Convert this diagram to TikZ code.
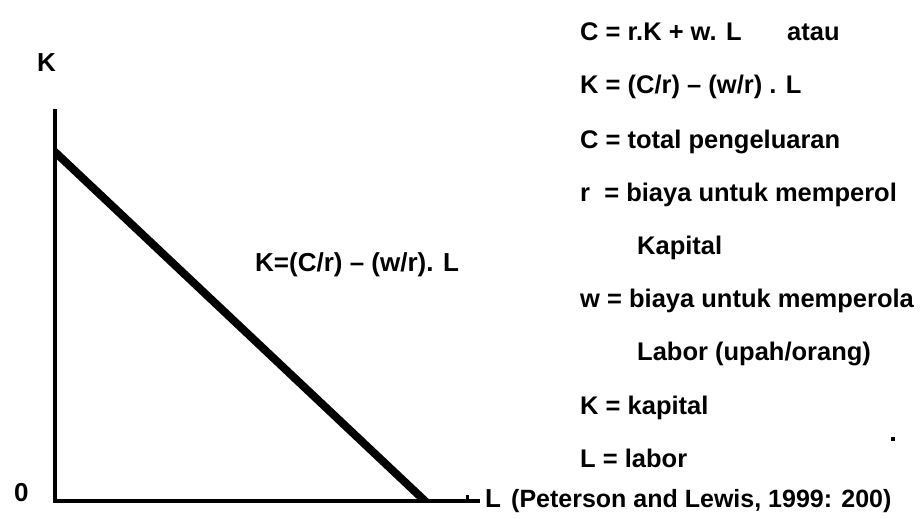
\documentclass[tikz,border=0pt]{standalone}
\usepackage{fontspec}
\setmainfont{Liberation Sans}
\usetikzlibrary{calc}
\begin{document}
\begin{tikzpicture}[x=1pt,y=-1pt,
  lbl/.style={anchor=base west,inner sep=0pt,font=\fontsize{25.5}{30}\selectfont\bfseries},
  blbl/.style={lbl,font=\fontsize{26}{30}\selectfont\bfseries},
  srclbl/.style={lbl,font=\fontsize{25}{30}\selectfont\bfseries},
  axisline/.style={line width=3.5pt,line join=miter},
  budget/.style={line width=8pt}]
\useasboundingbox (0,0) rectangle (924,519);
% axes
\coordinate (ktop) at (55,109);
\coordinate (orig) at (55,501);
\coordinate (lend) at (480,501);
\draw[axisline] (ktop) -- (orig) -- (lend);
% budget line
\coordinate (kint) at (55,152);
\coordinate (lint) at (425,501);
\begin{scope}
\clip (55,100) rectangle (600,501);
\draw[budget] ($(kint)!-0.02!(lint)$) -- ($(lint)!-0.02!(kint)$);
\end{scope}
% axis labels
\node[blbl] (klab) at (37,72) {K};
\node[blbl] (zlab) at (14,501) {0};
\node[blbl] (llab) at (485,507) {L};
\node[srclbl] (src) at (511,507) {(Peterson and Lewis, 1999: 200)};
% line label
\node[blbl] (eq) at (255,271) {K=(C/r) -- (w/r). L};
% legend
\node[lbl] (l1) at (580,41) {C = r.K + w. L};
\node[lbl] (l1b) at (787,41) {atau};
\node[lbl] (l2) at (580,94) {K = (C/r) -- (w/r) . L};
\node[lbl] (l3) at (580,148) {C = total pengeluaran};
\node[lbl] (l4) at (580,201) {r\ \ = biaya untuk memperol};
\node[lbl] (l5) at (637,254) {Kapital};
\node[lbl] (l6) at (580,307) {w = biaya untuk memperola};
\node[lbl] (l7) at (637,360) {Labor (upah/orang)};
\node[lbl] (l8) at (580,414) {K = kapital};
\node[lbl] (l9) at (580,467) {L = labor};
% specks
\fill (466,495) rectangle (469,499);
\fill (891,437) rectangle (895,441);
\end{tikzpicture}
\end{document}
